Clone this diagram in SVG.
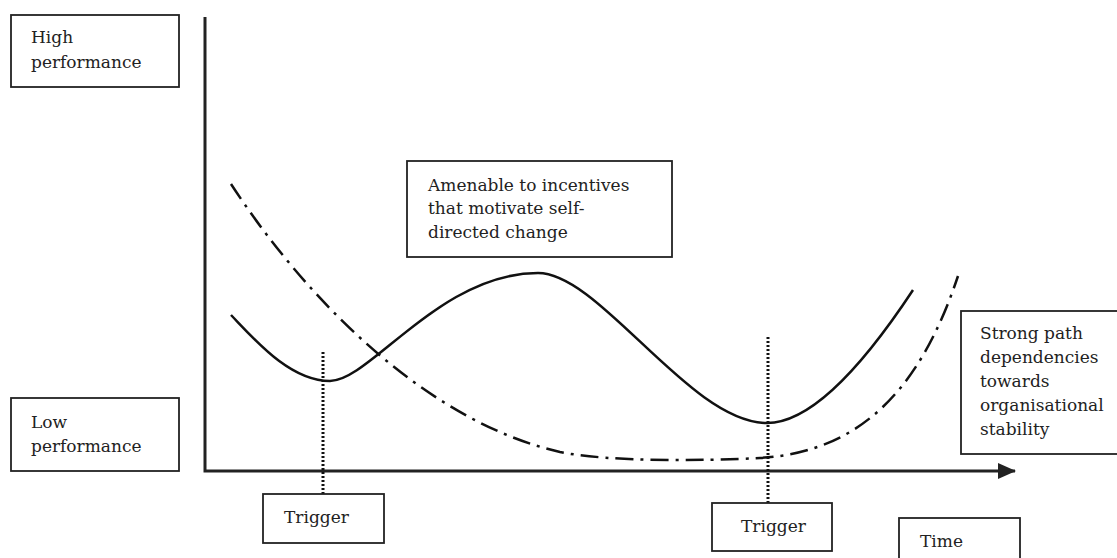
<svg xmlns="http://www.w3.org/2000/svg" width="1117" height="558" viewBox="0 0 1117 558">
<style>
.box{fill:#fff;stroke:#222;stroke-width:1.8}
.t{font-family:'DejaVu Serif',serif;font-size:17px;fill:#222}
.axis{stroke:#222;stroke-width:3;fill:none}
.solid{stroke:#111;stroke-width:2.5;fill:none}
.dashdot{stroke:#111;stroke-width:2.5;fill:none;stroke-dasharray:18 7 3 7}
.dot{stroke:#111;stroke-width:3;fill:none;stroke-dasharray:2 2}
</style>
<defs>
<marker id="arr" markerWidth="18" markerHeight="16" refX="17" refY="8" orient="auto" markerUnits="userSpaceOnUse">
<path d="M0,0 L18,8 L0,16 Z" fill="#222"/>
</marker>
</defs>
<rect width="1117" height="558" fill="#fff"/>
<g id="connectors">
<path class="axis" d="M205,17 L205,471 L1015,471" marker-end="url(#arr)"/>
<path class="dashdot" d="M231,184 C300,290 420,420 560,452 C610,462 700,461 760,458 C860,452 920,390 958,276"/>
<path class="solid" d="M231,315 C255,340 290,381 330,381 C370,381 440,273 538,273 C600,273 690,423 767,423 C820,423 880,340 913,290"/>
<line class="dot" x1="323" y1="352" x2="323" y2="494"/>
<line class="dot" x1="768" y1="337" x2="768" y2="503"/>
</g>
<g id="high">
<rect class="box" x="11" y="15" width="168" height="72"/>
<text class="t" x="31" y="43">High</text>
<text class="t" x="31" y="68">performance</text>
</g>
<g id="low">
<rect class="box" x="11" y="398" width="168" height="73"/>
<text class="t" x="31" y="428">Low</text>
<text class="t" x="31" y="452">performance</text>
</g>
<g id="amenable">
<rect class="box" x="407" y="161" width="265" height="96"/>
<text class="t" x="428" y="191">Amenable to incentives</text>
<text class="t" x="428" y="214">that motivate self-</text>
<text class="t" x="428" y="238">directed change</text>
</g>
<g id="strong">
<rect class="box" x="961" y="311" width="170" height="143"/>
<text class="t" x="980" y="339">Strong path</text>
<text class="t" x="980" y="363">dependencies</text>
<text class="t" x="980" y="387">towards</text>
<text class="t" x="980" y="411">organisational</text>
<text class="t" x="980" y="435">stability</text>
</g>
<g id="trigger1">
<rect class="box" x="263" y="494" width="121" height="49"/>
<text class="t" x="284" y="523">Trigger</text>
</g>
<g id="trigger2">
<rect class="box" x="712" y="503" width="120" height="48"/>
<text class="t" x="741" y="532">Trigger</text>
</g>
<g id="time">
<rect class="box" x="899" y="518" width="121" height="52"/>
<text class="t" x="920" y="547">Time</text>
</g>
</svg>
